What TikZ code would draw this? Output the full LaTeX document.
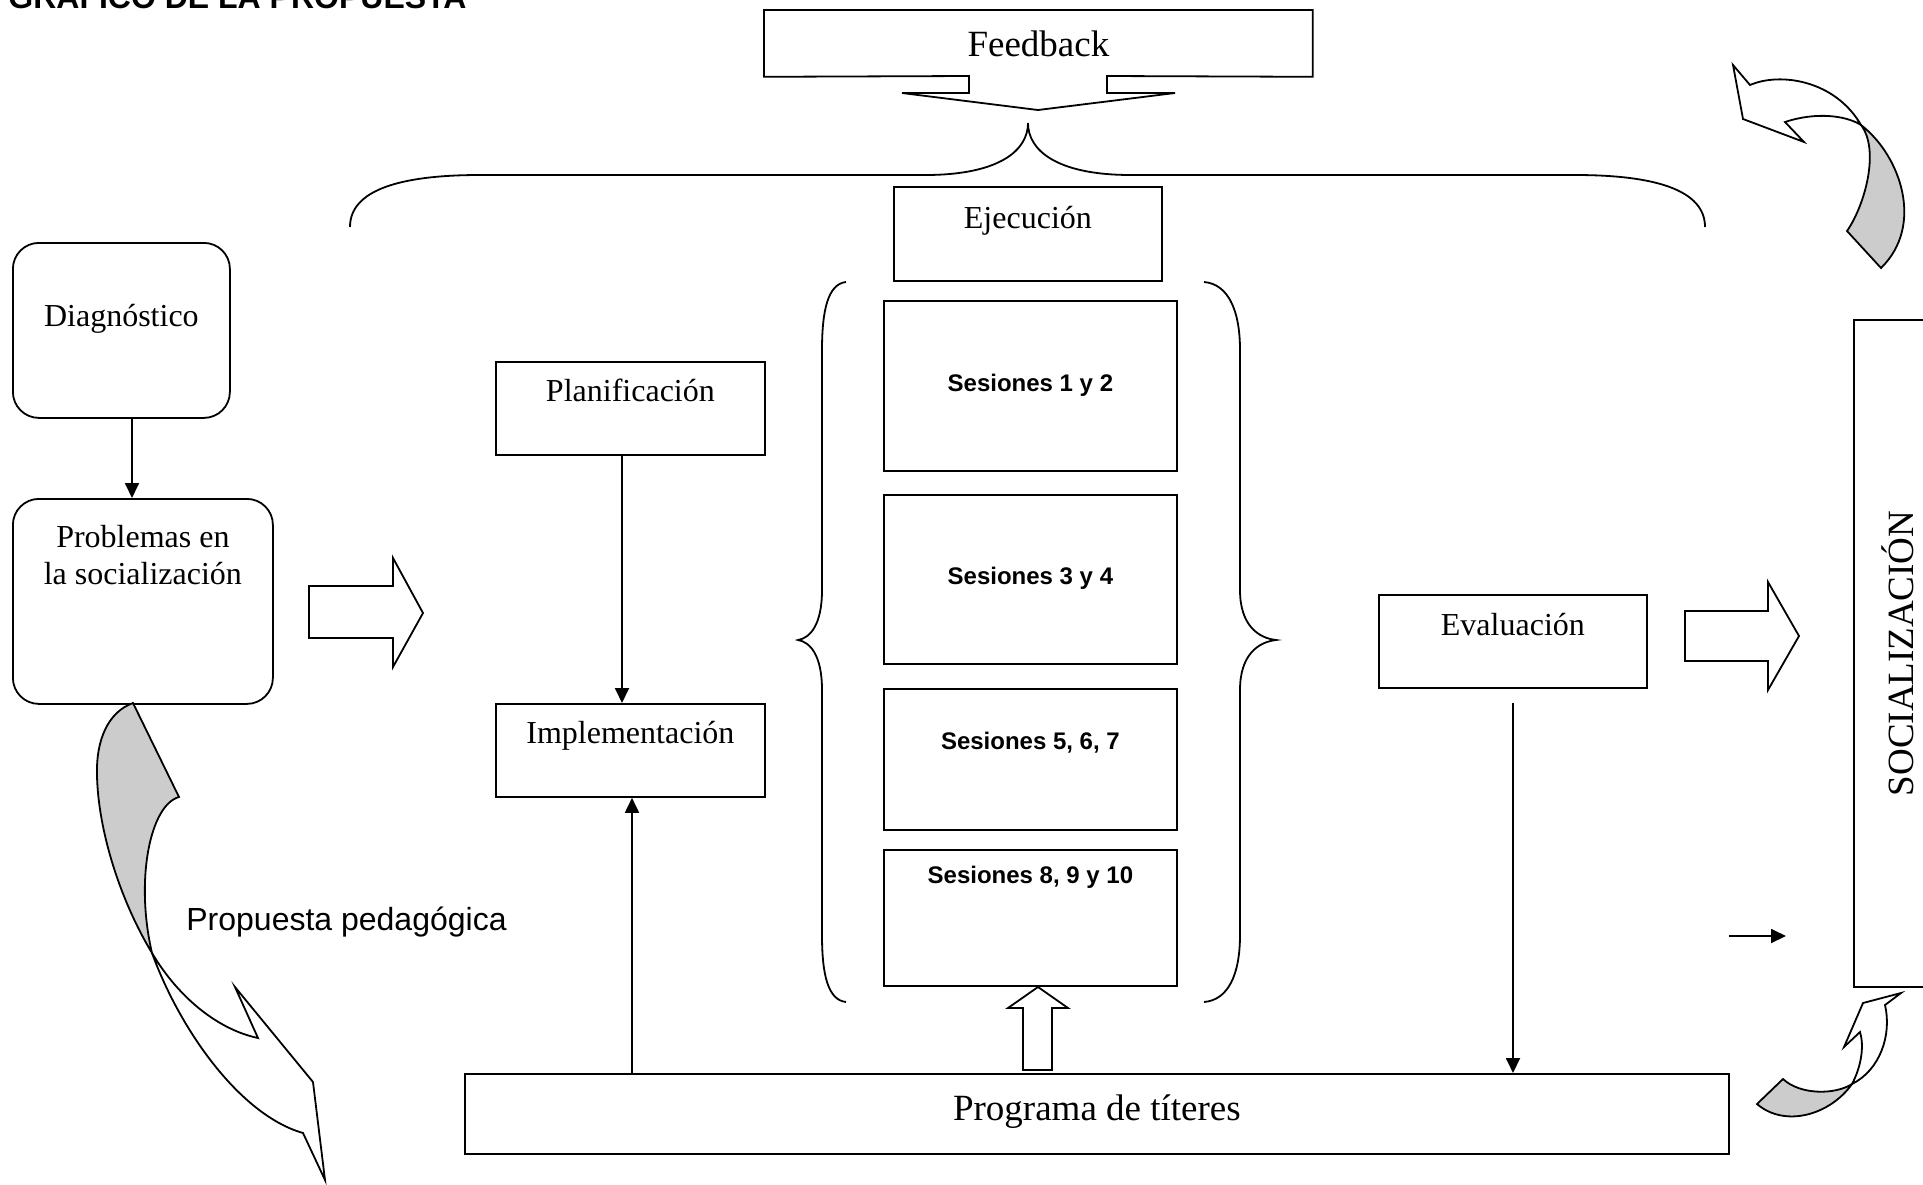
\documentclass[tikz,border=0pt]{standalone}
\usepackage{fontspec}
\setmainfont{Liberation Serif}
\newfontfamily\arialfont{Liberation Sans}
\usetikzlibrary{arrows.meta}

\tikzset{
  box/.style={draw, line width=0.9pt, inner sep=0pt, anchor=north west},
  rbox/.style={box, rounded corners=13pt},
  txt/.style={font=\fontsize{16}{18.5}\selectfont, text height=11pt, text depth=3.5pt},
  ttl/.style 2 args={label={[txt, anchor=center, yshift=-#1]north:{#2}}},
  ses/.style 2 args={label={[font=\arialfont\bfseries\fontsize{12}{14}\selectfont, anchor=center, yshift=-#1]north:{#2}}},
  arr/.style={line width=0.9pt, -{Triangle[length=7.5pt, width=7pt]}},
  blockarrow/.style={draw, line width=0.9pt, fill=white},
  curlwhite/.style={draw, line width=0.9pt, fill=white},
  curlgrey/.style={draw, line width=0.9pt, fill=black!20},
  brace/.style={line width=0.9pt},
}

\begin{document}
\begin{tikzpicture}[x=0.5pt, y=-0.5pt]
\useasboundingbox (0,0) rectangle (1923,1184);
\clip (0,0) rectangle (1923,1184);

% titulo (cortado arriba)
\node[font=\arialfont\bfseries\fontsize{16}{19}\selectfont, anchor=base west, inner sep=0pt] (titulo) at (8,8) {GRÁFICO DE LA PROPUESTA};

% feedback con flecha
\node[inner sep=0pt, anchor=north west, minimum width=274pt, minimum height=33pt, font=\fontsize{18.5}{21}\selectfont] (feedback) at (764,10) {Feedback};
\draw[box] (feedback.south west) -- (feedback.north west) -- (feedback.north east) -- (feedback.south east)
  -- (1107,76) -- (1107,93) -- (1175,93) -- (1038,110) -- (902,93) -- (969,93) -- (969,76) -- cycle;

% llaves
\draw[brace] (350,227) .. controls (350,190) and (400,175) .. (480,175) -- (925,175)
  .. controls (1000,175) and (1028,150) .. (1028,123) .. controls (1028,150) and (1056,175) .. (1131,175)
  -- (1575,175) .. controls (1655,175) and (1705,190) .. (1705,227);
\draw[brace] (846,282) .. controls (828,284) and (822,310) .. (822,350) -- (822,590)
  .. controls (822,625) and (810,638) .. (798,640) .. controls (810,642) and (822,655) .. (822,690)
  -- (822,935) .. controls (822,975) and (828,1000) .. (846,1002);
\draw[brace] (1204,282) .. controls (1228,284) and (1240,310) .. (1240,350) -- (1240,590)
  .. controls (1240,625) and (1258,638) .. (1276,640) .. controls (1258,642) and (1240,655) .. (1240,690)
  -- (1240,935) .. controls (1240,975) and (1228,1000) .. (1204,1002);

% cajas
\node[rbox, minimum width=108.5pt, minimum height=87.5pt, ttl={38.5pt}{Diagnóstico}] (diag) at (12,242) {};
\node[rbox, minimum width=130pt, minimum height=102.5pt,
  label={[font=\fontsize{16}{18.5}\selectfont, align=center, anchor=north, inner sep=0pt, yshift=-13.5pt]north:{Problemas en\\la socialización}}] (prob) at (12,498) {};
\node[box, minimum width=134.5pt, minimum height=46.5pt, ttl={16.5pt}{Planificación}] (plan) at (495,361) {};
\node[box, minimum width=134.5pt, minimum height=46.5pt, ttl={16.5pt}{Implementación}] (impl) at (495,703) {};
\node[box, minimum width=134pt, minimum height=47pt, ttl={17.5pt}{Ejecución}] (ejec) at (893,186) {};
\node[box, minimum width=146.5pt, minimum height=85pt, ses={42.5pt}{Sesiones 1 y 2}] (ses1) at (883,300) {};
\node[box, minimum width=146.5pt, minimum height=84.5pt, ses={42pt}{Sesiones 3 y 4}] (ses2) at (883,494) {};
\node[box, minimum width=146.5pt, minimum height=70.5pt, ses={27.5pt}{Sesiones 5, 6, 7}] (ses3) at (883,688) {};
\node[box, minimum width=146.5pt, minimum height=68pt, ses={14pt}{Sesiones 8, 9 y 10}] (ses4) at (883,849) {};
\node[box, minimum width=134pt, minimum height=46.5pt, ttl={17pt}{Evaluación}] (eval) at (1378,594) {};
\node[box, minimum width=632pt, minimum height=40pt,
  label={[font=\fontsize{18.5}{21}\selectfont, anchor=center, yshift=-19.5pt]north:{Programa de títeres}}] (prog) at (464,1073) {};
\node[box, minimum width=44pt, minimum height=333.5pt] (soc) at (1853,319) {};
\node[rotate=90, font=\fontsize{18.5}{21}\selectfont] (soctxt) at (soc.center) {SOCIALIZACIÓN};

\node[font=\arialfont\fontsize{16}{19}\selectfont, anchor=base west, inner sep=0pt] (prop) at (186,930) {Propuesta pedagógica};

% flechas
\coordinate (c1) at (132,0);
\coordinate (c2) at (622,0);
\coordinate (c3) at (632,0);
\coordinate (evalout) at (1513,703);
\coordinate (sa) at (1729,936);
\coordinate (sb) at (1786,936);
\draw[arr] (diag.south -| c1) -- (prob.north -| c1);
\draw[arr] (plan.south -| c2) -- (impl.north -| c2);
\draw[arr] (prog.north -| c3) -- (impl.south -| c3);
\draw[arr] (evalout) -- (prog.north -| evalout);
\draw[arr] (sa) -- (sb);

% flechas de bloque
\draw[blockarrow] (309,586) -- (393,586) -- (393,558) -- (423,613) -- (393,667) -- (393,638) -- (309,638) -- cycle;
\draw[blockarrow] (1685,611) -- (1768,611) -- (1768,582) -- (1799,636) -- (1768,690) -- (1768,661) -- (1685,661) -- cycle;
\draw[blockarrow] (1023,1070) -- (1023,1008) -- (1008,1008) -- (1038,987) -- (1068,1008) -- (1052,1008) -- (1052,1070) -- cycle;

% flechas curvas
\draw[curlwhite] (1733,65) -- (1743,119) -- (1804,142) -- (1785,122) .. controls (1815,112) and (1845,115) .. (1861,125)
  .. controls (1835,80) and (1780,72) .. (1750,85) -- cycle;
\draw[curlgrey] (1861,125) .. controls (1900,155) and (1925,225) .. (1881,268) -- (1847,231)
  .. controls (1865,205) and (1880,150) .. (1861,125) -- cycle;

\draw[curlgrey] (133,703) -- (179,797) .. controls (150,805) and (135,880) .. (152,953)
  .. controls (120,900) and (98,830) .. (97,775) .. controls (96,740) and (108,712) .. (133,703) -- cycle;
\draw[curlwhite] (152,953) .. controls (180,1000) and (220,1030) .. (258,1038) -- (235,987) -- (313,1082) -- (325,1180)
  -- (303,1133) .. controls (240,1115) and (180,1030) .. (152,953) -- cycle;

\draw[curlgrey] (1757,1104) -- (1783,1079) .. controls (1800,1095) and (1835,1095) .. (1852,1084)
  .. controls (1830,1115) and (1785,1128) .. (1757,1104) -- cycle;
\draw[curlwhite] (1852,1084) .. controls (1862,1065) and (1864,1045) .. (1860,1032) -- (1844,1047) -- (1863,1003)
  -- (1901,993) -- (1885,1005) .. controls (1892,1035) and (1880,1070) .. (1852,1084) -- cycle;
\end{tikzpicture}
\end{document}
